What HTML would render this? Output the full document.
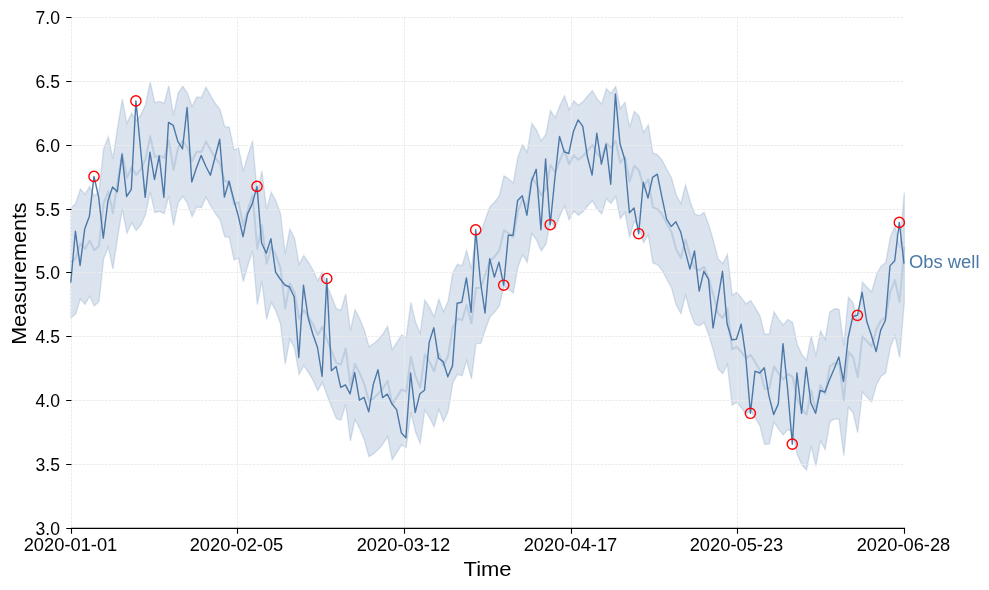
<!DOCTYPE html><html><head><meta charset="utf-8"><title>Obs well</title><style>html,body{margin:0;padding:0;background:#fff;overflow:hidden}svg{will-change:transform;display:block;position:absolute;left:0;top:0}text{font-family:"Liberation Sans",sans-serif}</style></head><body>
<svg width="989" height="590" viewBox="0 0 989 590">
<rect width="989" height="590" fill="#fff"/>
<polygon points="71.0,207.8 75.7,203.8 80.4,188.9 85.0,194.2 89.7,186.3 94.3,195.9 99.0,191.5 103.6,149.0 108.3,137.0 112.9,158.9 117.6,127.5 122.3,99.2 126.9,123.3 131.6,113.0 136.2,120.5 140.9,114.8 145.5,104.7 150.2,82.0 154.8,102.6 159.5,101.4 164.2,103.5 168.8,85.8 173.5,115.5 178.1,93.2 182.8,86.3 187.4,93.2 192.1,106.6 196.7,97.1 201.4,97.5 206.0,87.2 210.7,95.8 215.4,103.5 220.0,109.5 224.7,126.7 229.3,127.2 234.0,149.9 238.6,148.0 243.3,171.5 247.9,155.2 252.6,141.0 257.3,194.5 261.9,171.0 266.6,209.4 271.2,192.3 275.9,200.9 280.5,213.7 285.2,254.0 289.8,229.2 294.5,238.0 299.1,264.3 303.8,255.6 308.5,262.5 313.1,270.2 317.8,280.7 322.4,272.3 327.1,285.5 331.7,297.0 336.4,308.7 341.0,310.1 345.7,294.0 350.4,331.0 355.0,309.6 359.7,318.8 364.3,330.0 369.0,346.7 373.6,343.7 378.3,339.4 382.9,334.1 387.6,326.4 392.2,349.7 396.9,342.5 401.6,335.0 406.2,337.4 410.9,302.4 415.5,322.0 420.2,333.2 424.8,300.1 429.5,307.4 434.1,316.8 438.8,299.2 443.5,311.6 448.1,301.3 452.8,272.9 457.4,264.3 462.1,265.7 466.7,250.6 471.4,268.9 476.0,233.6 480.7,233.4 485.3,219.6 490.0,206.7 494.7,202.0 499.3,196.0 504.0,175.8 508.6,178.9 513.3,183.0 517.9,157.0 522.6,144.8 527.2,152.2 531.9,123.4 536.5,130.0 541.2,140.9 545.9,134.2 550.5,110.6 555.2,117.8 559.8,105.9 564.5,95.9 569.1,109.8 573.8,101.0 578.4,105.3 583.1,101.6 587.8,95.8 592.4,90.7 597.1,99.1 601.7,104.0 606.4,88.7 611.0,93.4 615.7,86.5 620.3,108.5 625.0,102.4 629.6,127.3 634.3,111.4 639.0,116.2 643.6,132.5 648.3,125.0 652.9,153.0 657.6,154.8 662.2,160.3 666.9,169.5 671.5,177.7 676.2,195.0 680.9,203.5 685.5,185.0 690.2,201.8 694.8,213.9 699.5,215.8 704.1,212.4 708.8,225.0 713.4,240.6 718.1,259.0 722.8,263.5 727.4,254.3 732.1,295.0 736.7,292.3 741.4,297.7 746.0,304.0 750.7,300.5 755.3,307.8 760.0,316.1 764.6,334.2 769.3,334.0 774.0,311.8 778.6,319.2 783.3,325.0 787.9,319.4 792.6,322.4 797.2,344.4 801.9,354.8 806.5,360.1 811.2,336.0 815.9,356.0 820.5,330.8 825.2,339.5 829.8,312.0 834.5,308.7 839.1,309.3 843.8,345.7 848.4,297.3 853.1,302.8 857.7,322.7 862.4,282.0 867.1,287.2 871.7,292.0 876.4,275.0 881.0,266.2 885.7,262.8 890.3,237.5 895.0,225.8 899.6,247.6 904.3,192.5 904.3,302.5 899.6,357.6 895.0,335.8 890.3,347.5 885.7,372.8 881.0,376.2 876.4,385.0 871.7,402.0 867.1,397.2 862.4,392.0 857.7,432.7 853.1,412.8 848.4,407.3 843.8,455.7 839.1,419.3 834.5,418.7 829.8,422.0 825.2,449.5 820.5,440.8 815.9,466.0 811.2,446.0 806.5,470.1 801.9,464.8 797.2,454.4 792.6,432.4 787.9,429.4 783.3,435.0 778.6,429.2 774.0,421.8 769.3,444.0 764.6,444.2 760.0,426.1 755.3,417.8 750.7,410.5 746.0,414.0 741.4,407.7 736.7,402.3 732.1,405.0 727.4,364.3 722.8,373.5 718.1,369.0 713.4,350.6 708.8,335.0 704.1,322.4 699.5,325.8 694.8,323.9 690.2,311.8 685.5,295.0 680.9,313.5 676.2,305.0 671.5,287.7 666.9,279.5 662.2,270.3 657.6,264.8 652.9,263.0 648.3,235.0 643.6,242.5 639.0,226.2 634.3,221.4 629.6,237.3 625.0,212.4 620.3,218.5 615.7,196.5 611.0,203.4 606.4,198.7 601.7,214.0 597.1,209.1 592.4,200.7 587.8,205.8 583.1,211.6 578.4,215.3 573.8,211.0 569.1,219.8 564.5,205.9 559.8,215.9 555.2,227.8 550.5,220.6 545.9,244.2 541.2,250.9 536.5,240.0 531.9,233.4 527.2,262.2 522.6,254.8 517.9,267.0 513.3,293.0 508.6,288.9 504.0,285.8 499.3,306.0 494.7,312.0 490.0,316.7 485.3,329.6 480.7,343.4 476.0,343.6 471.4,378.9 466.7,360.6 462.1,375.7 457.4,374.3 452.8,382.9 448.1,411.3 443.5,421.6 438.8,409.2 434.1,426.8 429.5,417.4 424.8,410.1 420.2,443.2 415.5,432.0 410.9,412.4 406.2,447.4 401.6,445.0 396.9,452.5 392.2,459.7 387.6,436.4 382.9,444.1 378.3,449.4 373.6,453.7 369.0,456.7 364.3,440.0 359.7,428.8 355.0,419.6 350.4,441.0 345.7,404.0 341.0,420.1 336.4,418.7 331.7,407.0 327.1,395.5 322.4,382.3 317.8,390.7 313.1,380.2 308.5,372.5 303.8,365.6 299.1,374.3 294.5,348.0 289.8,339.2 285.2,364.0 280.5,323.7 275.9,310.9 271.2,302.3 266.6,319.4 261.9,281.0 257.3,304.5 252.6,251.0 247.9,265.2 243.3,281.5 238.6,258.0 234.0,259.9 229.3,237.2 224.7,236.7 220.0,219.5 215.4,213.5 210.7,205.8 206.0,197.2 201.4,207.5 196.7,207.1 192.1,216.6 187.4,203.2 182.8,196.3 178.1,203.2 173.5,225.5 168.8,195.8 164.2,213.5 159.5,211.4 154.8,212.6 150.2,192.0 145.5,214.7 140.9,224.8 136.2,230.5 131.6,223.0 126.9,233.3 122.3,209.2 117.6,237.5 112.9,268.9 108.3,247.0 103.6,259.0 99.0,301.5 94.3,305.9 89.7,296.3 85.0,304.2 80.4,298.9 75.7,313.8 71.0,317.8" fill="#4c78a8" fill-opacity="0.2" stroke="none"/>
<polygon points="71.0,207.8 75.7,203.8 80.4,188.9 85.0,194.2 89.7,186.3 94.3,195.9 99.0,191.5 103.6,149.0 108.3,137.0 112.9,158.9 117.6,127.5 122.3,99.2 126.9,123.3 131.6,113.0 136.2,120.5 140.9,114.8 145.5,104.7 150.2,82.0 154.8,102.6 159.5,101.4 164.2,103.5 168.8,85.8 173.5,115.5 178.1,93.2 182.8,86.3 187.4,93.2 192.1,106.6 196.7,97.1 201.4,97.5 206.0,87.2 210.7,95.8 215.4,103.5 220.0,109.5 224.7,126.7 229.3,127.2 234.0,149.9 238.6,148.0 243.3,171.5 247.9,155.2 252.6,141.0 257.3,194.5 261.9,171.0 266.6,209.4 271.2,192.3 275.9,200.9 280.5,213.7 285.2,254.0 289.8,229.2 294.5,238.0 299.1,264.3 303.8,255.6 308.5,262.5 313.1,270.2 317.8,280.7 322.4,272.3 327.1,285.5 331.7,297.0 336.4,308.7 341.0,310.1 345.7,294.0 350.4,331.0 355.0,309.6 359.7,318.8 364.3,330.0 369.0,346.7 373.6,343.7 378.3,339.4 382.9,334.1 387.6,326.4 392.2,349.7 396.9,342.5 401.6,335.0 406.2,337.4 410.9,302.4 415.5,322.0 420.2,333.2 424.8,300.1 429.5,307.4 434.1,316.8 438.8,299.2 443.5,311.6 448.1,301.3 452.8,272.9 457.4,264.3 462.1,265.7 466.7,250.6 471.4,268.9 476.0,233.6 480.7,233.4 485.3,219.6 490.0,206.7 494.7,202.0 499.3,196.0 504.0,175.8 508.6,178.9 513.3,183.0 517.9,157.0 522.6,144.8 527.2,152.2 531.9,123.4 536.5,130.0 541.2,140.9 545.9,134.2 550.5,110.6 555.2,117.8 559.8,105.9 564.5,95.9 569.1,109.8 573.8,101.0 578.4,105.3 583.1,101.6 587.8,95.8 592.4,90.7 597.1,99.1 601.7,104.0 606.4,88.7 611.0,93.4 615.7,86.5 620.3,108.5 625.0,102.4 629.6,127.3 634.3,111.4 639.0,116.2 643.6,132.5 648.3,125.0 652.9,153.0 657.6,154.8 662.2,160.3 666.9,169.5 671.5,177.7 676.2,195.0 680.9,203.5 685.5,185.0 690.2,201.8 694.8,213.9 699.5,215.8 704.1,212.4 708.8,225.0 713.4,240.6 718.1,259.0 722.8,263.5 727.4,254.3 732.1,295.0 736.7,292.3 741.4,297.7 746.0,304.0 750.7,300.5 755.3,307.8 760.0,316.1 764.6,334.2 769.3,334.0 774.0,311.8 778.6,319.2 783.3,325.0 787.9,319.4 792.6,322.4 797.2,344.4 801.9,354.8 806.5,360.1 811.2,336.0 815.9,356.0 820.5,330.8 825.2,339.5 829.8,312.0 834.5,308.7 839.1,309.3 843.8,345.7 848.4,297.3 853.1,302.8 857.7,322.7 862.4,282.0 867.1,287.2 871.7,292.0 876.4,275.0 881.0,266.2 885.7,262.8 890.3,237.5 895.0,225.8 899.6,247.6 904.3,192.5 904.3,302.5 899.6,357.6 895.0,335.8 890.3,347.5 885.7,372.8 881.0,376.2 876.4,385.0 871.7,402.0 867.1,397.2 862.4,392.0 857.7,432.7 853.1,412.8 848.4,407.3 843.8,455.7 839.1,419.3 834.5,418.7 829.8,422.0 825.2,449.5 820.5,440.8 815.9,466.0 811.2,446.0 806.5,470.1 801.9,464.8 797.2,454.4 792.6,432.4 787.9,429.4 783.3,435.0 778.6,429.2 774.0,421.8 769.3,444.0 764.6,444.2 760.0,426.1 755.3,417.8 750.7,410.5 746.0,414.0 741.4,407.7 736.7,402.3 732.1,405.0 727.4,364.3 722.8,373.5 718.1,369.0 713.4,350.6 708.8,335.0 704.1,322.4 699.5,325.8 694.8,323.9 690.2,311.8 685.5,295.0 680.9,313.5 676.2,305.0 671.5,287.7 666.9,279.5 662.2,270.3 657.6,264.8 652.9,263.0 648.3,235.0 643.6,242.5 639.0,226.2 634.3,221.4 629.6,237.3 625.0,212.4 620.3,218.5 615.7,196.5 611.0,203.4 606.4,198.7 601.7,214.0 597.1,209.1 592.4,200.7 587.8,205.8 583.1,211.6 578.4,215.3 573.8,211.0 569.1,219.8 564.5,205.9 559.8,215.9 555.2,227.8 550.5,220.6 545.9,244.2 541.2,250.9 536.5,240.0 531.9,233.4 527.2,262.2 522.6,254.8 517.9,267.0 513.3,293.0 508.6,288.9 504.0,285.8 499.3,306.0 494.7,312.0 490.0,316.7 485.3,329.6 480.7,343.4 476.0,343.6 471.4,378.9 466.7,360.6 462.1,375.7 457.4,374.3 452.8,382.9 448.1,411.3 443.5,421.6 438.8,409.2 434.1,426.8 429.5,417.4 424.8,410.1 420.2,443.2 415.5,432.0 410.9,412.4 406.2,447.4 401.6,445.0 396.9,452.5 392.2,459.7 387.6,436.4 382.9,444.1 378.3,449.4 373.6,453.7 369.0,456.7 364.3,440.0 359.7,428.8 355.0,419.6 350.4,441.0 345.7,404.0 341.0,420.1 336.4,418.7 331.7,407.0 327.1,395.5 322.4,382.3 317.8,390.7 313.1,380.2 308.5,372.5 303.8,365.6 299.1,374.3 294.5,348.0 289.8,339.2 285.2,364.0 280.5,323.7 275.9,310.9 271.2,302.3 266.6,319.4 261.9,281.0 257.3,304.5 252.6,251.0 247.9,265.2 243.3,281.5 238.6,258.0 234.0,259.9 229.3,237.2 224.7,236.7 220.0,219.5 215.4,213.5 210.7,205.8 206.0,197.2 201.4,207.5 196.7,207.1 192.1,216.6 187.4,203.2 182.8,196.3 178.1,203.2 173.5,225.5 168.8,195.8 164.2,213.5 159.5,211.4 154.8,212.6 150.2,192.0 145.5,214.7 140.9,224.8 136.2,230.5 131.6,223.0 126.9,233.3 122.3,209.2 117.6,237.5 112.9,268.9 108.3,247.0 103.6,259.0 99.0,301.5 94.3,305.9 89.7,296.3 85.0,304.2 80.4,298.9 75.7,313.8 71.0,317.8" fill="none" stroke="#4c78a8" stroke-opacity="0.2" stroke-width="1.4" stroke-linejoin="miter"/>
<path d="M71.5 464.5H904.0 M71.5 400.5H904.0 M71.5 336.5H904.0 M71.5 272.5H904.0 M71.5 209.5H904.0 M71.5 145.5H904.0 M71.5 81.5H904.0 M71.5 17.5H904.0 M71.5 17.5V528.4 M237.5 17.5V528.4 M404.5 17.5V528.4 M571.5 17.5V528.4 M737.5 17.5V528.4" fill="none" stroke="#ebebeb" stroke-width="1" stroke-dasharray="2.6 1.1"/>
<polyline points="71.0,262.2 75.7,258.2 80.4,243.3 85.0,248.6 89.7,240.7 94.3,250.3 99.0,245.9 103.6,203.4 108.3,191.4 112.9,213.3 117.6,181.9 122.3,153.6 126.9,177.7 131.6,167.4 136.2,174.9 140.9,169.2 145.5,159.1 150.2,136.4 154.8,157.0 159.5,155.8 164.2,157.9 168.8,140.2 173.5,169.9 178.1,147.6 182.8,140.7 187.4,147.6 192.1,161.0 196.7,151.5 201.4,151.9 206.0,141.6 210.7,150.2 215.4,157.9 220.0,163.9 224.7,181.1 229.3,181.6 234.0,204.3 238.6,202.4 243.3,225.9 247.9,209.6 252.6,195.4 257.3,248.9 261.9,225.4 266.6,263.8 271.2,246.7 275.9,255.3 280.5,268.1 285.2,308.4 289.8,283.6 294.5,292.4 299.1,318.7 303.8,310.0 308.5,316.9 313.1,324.6 317.8,335.1 322.4,326.7 327.1,339.9 331.7,351.4 336.4,363.1 341.0,364.5 345.7,348.4 350.4,385.4 355.0,364.0 359.7,373.2 364.3,384.4 369.0,401.1 373.6,398.1 378.3,393.8 382.9,388.5 387.6,380.8 392.2,404.1 396.9,396.9 401.6,389.4 406.2,391.8 410.9,356.8 415.5,376.4 420.2,387.6 424.8,354.5 429.5,361.8 434.1,371.2 438.8,353.6 443.5,366.0 448.1,355.7 452.8,327.3 457.4,318.7 462.1,320.1 466.7,305.0 471.4,323.3 476.0,288.0 480.7,287.8 485.3,274.0 490.0,261.1 494.7,256.4 499.3,250.4 504.0,230.2 508.6,233.3 513.3,237.4 517.9,211.4 522.6,199.2 527.2,206.6 531.9,177.8 536.5,184.4 541.2,195.3 545.9,188.6 550.5,165.0 555.2,172.2 559.8,160.3 564.5,150.3 569.1,164.2 573.8,155.4 578.4,159.7 583.1,156.0 587.8,150.2 592.4,145.1 597.1,153.5 601.7,158.4 606.4,143.1 611.0,147.8 615.7,140.9 620.3,162.9 625.0,156.8 629.6,181.7 634.3,165.8 639.0,170.6 643.6,186.9 648.3,179.4 652.9,207.4 657.6,209.2 662.2,214.7 666.9,223.9 671.5,232.1 676.2,249.4 680.9,257.9 685.5,239.4 690.2,256.2 694.8,268.3 699.5,270.2 704.1,266.8 708.8,279.4 713.4,295.0 718.1,313.4 722.8,317.9 727.4,308.7 732.1,349.4 736.7,346.7 741.4,352.1 746.0,358.4 750.7,354.9 755.3,362.2 760.0,370.5 764.6,388.6 769.3,388.4 774.0,366.2 778.6,373.6 783.3,379.4 787.9,373.8 792.6,376.8 797.2,398.8 801.9,409.2 806.5,414.5 811.2,390.4 815.9,410.4 820.5,385.2 825.2,393.9 829.8,366.4 834.5,363.1 839.1,363.7 843.8,400.1 848.4,351.7 853.1,357.2 857.7,377.1 862.4,336.4 867.1,341.6 871.7,346.4 876.4,329.4 881.0,320.6 885.7,317.2 890.3,291.9 895.0,280.2 899.6,302.0 904.3,246.9" fill="none" stroke="#4c78a8" stroke-opacity="0.2" stroke-width="2.1" stroke-linejoin="round"/>
<polyline points="70.8,282.5 75.4,231.2 80.1,265.5 84.7,229.1 89.4,216.2 94.0,176.4 98.7,197.3 103.3,238.1 108.0,200.6 112.6,187.0 117.3,191.8 122.0,154.3 126.6,196.5 131.3,189.4 135.9,100.9 140.6,149.0 145.2,197.4 149.9,152.2 154.5,179.5 159.2,156.0 163.9,197.3 168.5,122.4 173.2,125.3 177.8,141.4 182.5,148.9 187.1,107.5 191.8,182.0 196.4,168.0 201.1,155.4 205.7,166.0 210.4,175.2 215.1,157.0 219.7,139.2 224.4,197.1 229.0,181.2 233.7,199.4 238.3,216.0 243.0,236.7 247.6,213.9 252.3,203.6 257.0,186.4 261.6,243.0 266.3,253.2 270.9,238.6 275.6,272.1 280.2,279.0 284.9,285.0 289.5,287.0 294.2,297.0 298.8,357.5 303.5,285.3 308.2,318.0 312.8,334.0 317.5,347.5 322.1,376.4 326.8,278.5 331.4,370.7 336.1,366.4 340.7,387.4 345.4,384.9 350.1,393.9 354.7,372.4 359.4,400.2 364.0,397.3 368.7,411.9 373.3,384.4 378.0,369.8 382.6,397.6 387.3,394.0 391.9,403.8 396.6,409.6 401.3,432.7 405.9,437.9 410.6,373.0 415.2,412.6 419.9,393.7 424.5,390.3 429.2,342.2 433.8,327.8 438.5,358.2 443.2,361.6 447.8,376.7 452.5,365.9 457.1,303.2 461.8,302.3 466.4,277.9 471.1,312.3 475.7,229.8 480.4,281.0 485.0,313.0 489.7,258.7 494.4,277.1 499.0,262.1 503.7,285.2 508.3,235.3 513.0,235.3 517.6,200.6 522.3,195.8 526.9,215.2 531.6,181.0 536.2,169.3 540.9,229.8 545.6,159.0 550.2,224.7 554.9,178.0 559.5,136.4 564.2,151.8 568.8,153.5 573.5,131.2 578.1,119.9 582.8,126.4 587.5,157.3 592.1,175.0 596.8,133.3 601.4,164.2 606.1,144.3 610.7,184.2 615.4,93.9 620.0,143.7 624.7,159.2 629.4,212.8 634.0,208.0 638.7,233.7 643.3,182.2 648.0,198.0 652.6,177.4 657.3,174.2 661.9,197.2 666.6,219.1 671.2,226.5 675.9,221.7 680.6,231.7 685.2,250.9 689.9,269.1 694.5,250.9 699.2,291.1 703.8,271.3 708.5,279.1 713.1,328.0 717.8,299.7 722.5,271.3 727.1,323.7 731.8,339.7 736.4,339.3 741.1,324.2 745.7,355.8 750.4,413.3 755.0,371.2 759.7,373.0 764.3,367.8 769.0,396.2 773.7,414.5 778.3,403.9 783.0,343.6 787.6,389.0 792.3,444.1 796.9,373.0 801.6,413.3 806.2,367.3 810.9,403.0 815.6,413.3 820.2,390.5 824.9,392.2 829.5,379.8 834.2,368.8 838.8,357.0 843.5,381.5 848.1,338.0 852.8,316.5 857.4,315.3 862.1,292.3 866.8,321.5 871.4,335.3 876.1,351.6 880.7,330.1 885.4,320.2 890.0,265.9 894.7,260.8 899.3,222.4 904.0,263.7" fill="none" stroke="#4c78a8" stroke-width="1.4" stroke-linejoin="round"/>
<circle cx="94.0" cy="176.4" r="5.1" fill="none" stroke="#ff0000" stroke-width="1.4"/>
<circle cx="135.9" cy="100.9" r="5.1" fill="none" stroke="#ff0000" stroke-width="1.4"/>
<circle cx="257.0" cy="186.4" r="5.1" fill="none" stroke="#ff0000" stroke-width="1.4"/>
<circle cx="326.8" cy="278.5" r="5.1" fill="none" stroke="#ff0000" stroke-width="1.4"/>
<circle cx="475.7" cy="229.8" r="5.1" fill="none" stroke="#ff0000" stroke-width="1.4"/>
<circle cx="503.7" cy="285.2" r="5.1" fill="none" stroke="#ff0000" stroke-width="1.4"/>
<circle cx="550.2" cy="224.7" r="5.1" fill="none" stroke="#ff0000" stroke-width="1.4"/>
<circle cx="638.7" cy="233.7" r="5.1" fill="none" stroke="#ff0000" stroke-width="1.4"/>
<circle cx="750.4" cy="413.3" r="5.1" fill="none" stroke="#ff0000" stroke-width="1.4"/>
<circle cx="792.3" cy="444.1" r="5.1" fill="none" stroke="#ff0000" stroke-width="1.4"/>
<circle cx="857.4" cy="315.3" r="5.1" fill="none" stroke="#ff0000" stroke-width="1.4"/>
<circle cx="899.3" cy="222.4" r="5.1" fill="none" stroke="#ff0000" stroke-width="1.4"/>
<path d="M70.95 528.4H905.05 M71.5 528.4v5.3 M237.5 528.4v5.3 M404.5 528.4v5.3 M571.5 528.4v5.3 M737.5 528.4v5.3 M904.5 528.4v5.3 M71.5 528.5h-5.3 M71.5 464.5h-5.3 M71.5 400.5h-5.3 M71.5 336.5h-5.3 M71.5 272.5h-5.3 M71.5 209.5h-5.3 M71.5 145.5h-5.3 M71.5 81.5h-5.3 M71.5 17.5h-5.3" fill="none" stroke="#000" stroke-width="1.1"/>
<text x="70.50" y="551.1" font-size="17.7" text-anchor="middle" textLength="93.6" lengthAdjust="spacingAndGlyphs">2020-01-01</text>
<text x="236.50" y="551.1" font-size="17.7" text-anchor="middle" textLength="93.6" lengthAdjust="spacingAndGlyphs">2020-02-05</text>
<text x="403.50" y="551.1" font-size="17.7" text-anchor="middle" textLength="93.6" lengthAdjust="spacingAndGlyphs">2020-03-12</text>
<text x="570.50" y="551.1" font-size="17.7" text-anchor="middle" textLength="93.6" lengthAdjust="spacingAndGlyphs">2020-04-17</text>
<text x="736.50" y="551.1" font-size="17.7" text-anchor="middle" textLength="93.6" lengthAdjust="spacingAndGlyphs">2020-05-23</text>
<text x="903.50" y="551.1" font-size="17.7" text-anchor="middle" textLength="93.6" lengthAdjust="spacingAndGlyphs">2020-06-28</text>
<text x="59.9" y="534.90" font-size="17.7" text-anchor="end" textLength="24.4" lengthAdjust="spacingAndGlyphs">3.0</text>
<text x="59.9" y="470.90" font-size="17.7" text-anchor="end" textLength="24.4" lengthAdjust="spacingAndGlyphs">3.5</text>
<text x="59.9" y="406.90" font-size="17.7" text-anchor="end" textLength="24.4" lengthAdjust="spacingAndGlyphs">4.0</text>
<text x="59.9" y="342.90" font-size="17.7" text-anchor="end" textLength="24.4" lengthAdjust="spacingAndGlyphs">4.5</text>
<text x="59.9" y="278.90" font-size="17.7" text-anchor="end" textLength="24.4" lengthAdjust="spacingAndGlyphs">5.0</text>
<text x="59.9" y="215.90" font-size="17.7" text-anchor="end" textLength="24.4" lengthAdjust="spacingAndGlyphs">5.5</text>
<text x="59.9" y="151.90" font-size="17.7" text-anchor="end" textLength="24.4" lengthAdjust="spacingAndGlyphs">6.0</text>
<text x="59.9" y="87.90" font-size="17.7" text-anchor="end" textLength="24.4" lengthAdjust="spacingAndGlyphs">6.5</text>
<text x="59.9" y="23.90" font-size="17.7" text-anchor="end" textLength="24.4" lengthAdjust="spacingAndGlyphs">7.0</text>
<text x="487.6" y="576" font-size="19.8" text-anchor="middle" textLength="48" lengthAdjust="spacingAndGlyphs">Time</text>
<text transform="translate(25.7 273.6) rotate(-90)" font-size="19.8" text-anchor="middle" textLength="142.5" lengthAdjust="spacingAndGlyphs">Measurements</text>
<text x="909" y="267.6" font-size="18" fill="#4c78a8" textLength="70.5" lengthAdjust="spacingAndGlyphs">Obs well</text>
</svg></body></html>
